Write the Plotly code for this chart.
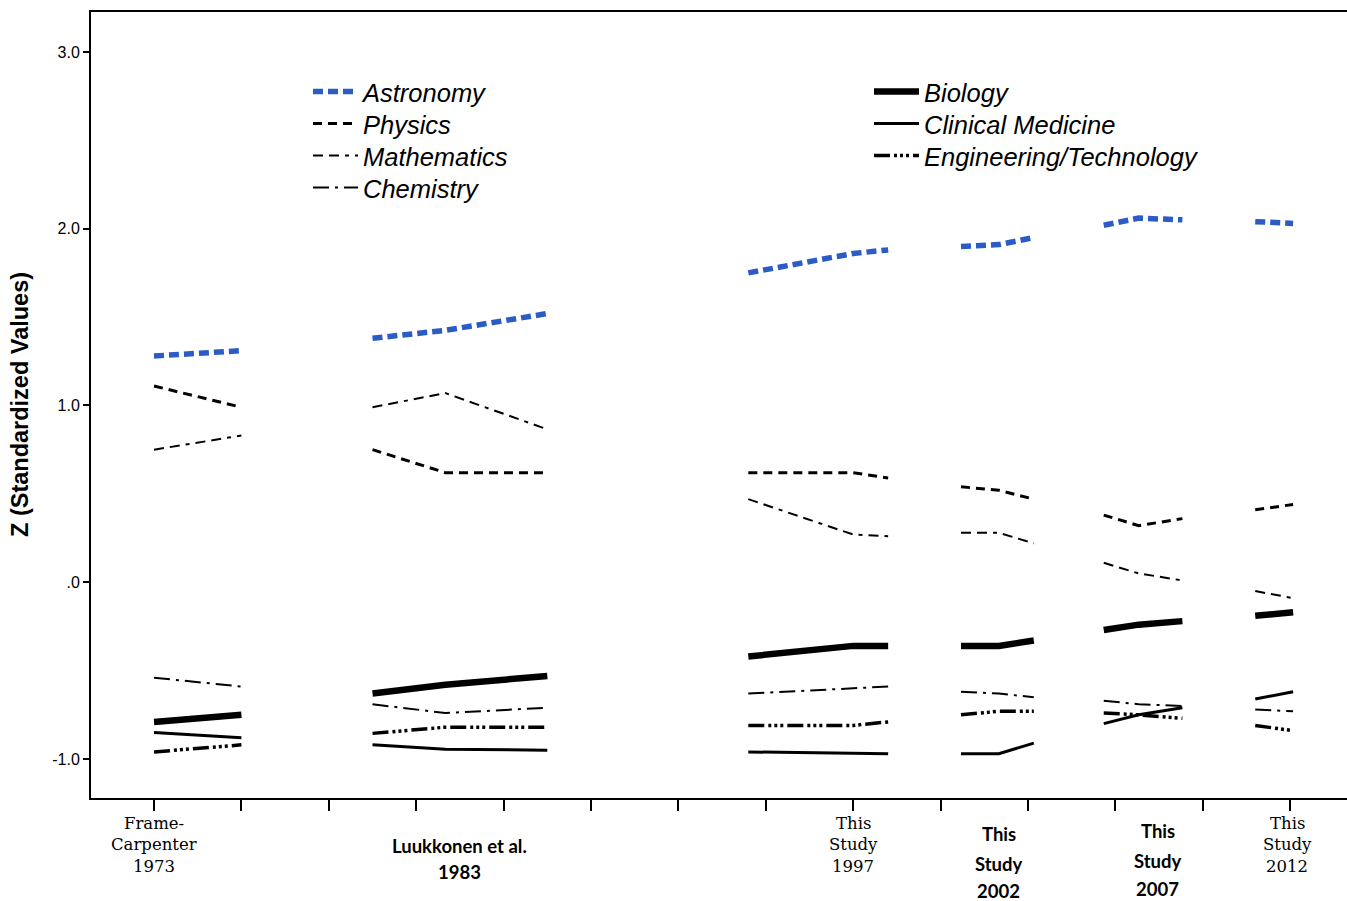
import plotly.graph_objects as go

# ---- data (x positions in years on a 1973..2012 axis, ticks every 3 years) ----
group_x = [
    [1973.0, 1976.0],            # Frame-Carpenter 1973
    [1980.5, 1983.0, 1986.5],    # Luukkonen et al. 1983
    [1993.4, 1997.0, 1998.2],    # This Study 1997
    [2000.7, 2002.0, 2003.2],    # This Study 2002
    [2005.6, 2006.8, 2008.3],    # This Study 2007
    [2010.8, 2012.1],            # This Study 2012
]

astronomy = [[1.28, 1.31], [1.38, 1.425, 1.52], [1.75, 1.86, 1.88],
             [1.90, 1.91, 1.95], [2.02, 2.06, 2.05], [2.04, 2.03]]
physics = [[1.11, 0.99], [0.75, 0.62, 0.62], [0.62, 0.62, 0.59],
           [0.54, 0.52, 0.47], [0.38, 0.32, 0.36], [0.41, 0.44]]
mathematics = [[0.75, 0.83], [0.99, 1.07, 0.865], [0.47, 0.27, 0.26],
               [0.28, 0.28, 0.22], [0.11, 0.05, 0.01], [-0.05, -0.09]]
chemistry = [[-0.54, -0.59], [-0.69, -0.74, -0.71], [-0.63, -0.60, -0.59],
             [-0.62, -0.63, -0.65], [-0.67, -0.69, -0.70], [-0.72, -0.73]]
biology = [[-0.79, -0.75], [-0.63, -0.58, -0.53], [-0.42, -0.36, -0.36],
           [-0.36, -0.36, -0.33], [-0.27, -0.24, -0.22], [-0.19, -0.17]]
clinical = [[-0.85, -0.88], [-0.92, -0.945, -0.95], [-0.96, -0.97, -0.97],
            [-0.97, -0.97, -0.91], [-0.80, -0.75, -0.71], [-0.66, -0.62]]
engineering = [[-0.96, -0.92], [-0.855, -0.82, -0.82], [-0.81, -0.81, -0.79],
               [-0.75, -0.73, -0.73], [-0.74, -0.75, -0.77], [-0.81, -0.84]]

y_tickvals = [-1, 0, 1, 2, 3]
y_ticktext = ["-1.0", ".0", "1.0", "2.0", "3.0"]
x_tickvals = list(range(1973, 2013, 3))

# name, values, colour, width, dash, legend column, legend row
fields = [
    ("Astronomy", astronomy, "#2b5cc6", 5.5, "10px,5px", 0, 0),
    ("Physics", physics, "black", 3, "9px,6px", 0, 1),
    ("Mathematics", mathematics, "black", 2, "10px,6px,10px,6px,4px,6px", 0, 2),
    ("Chemistry", chemistry, "black", 2, "16px,6px,3px,6px", 0, 3),
    ("Biology", biology, "black", 6.5, "solid", 1, 0),
    ("Clinical Medicine", clinical, "black", 3, "solid", 1, 1),
    ("Engineering/Technology", engineering, "black", 3.5,
     "16px,4px,3px,3px,3px,3px,3px,4px", 1, 2),
]

W, H = 1347, 901
plot_left, plot_right = 91, 1347
plot_top, plot_bottom = 12, 798


def flatten(groups, xs):
    fx, fy = [], []
    for gx, gy in zip(xs, groups):
        fx += gx + [None]
        fy += gy + [None]
    return fx, fy


legend_font = dict(family="Liberation Sans", size=25.5, color="black", style="italic")
legend_col_px = [308, 869]     # left edge of each legend column
legend_row0_px, legend_row_step = 92, 32

fig = go.Figure()
layout_legends = {}
for i, (name, vals, color, width, dash, col, row) in enumerate(fields):
    fx, fy = flatten(vals, group_x)
    lname = "legend" if i == 0 else f"legend{i + 1}"
    fig.add_trace(go.Scatter(x=fx, y=fy, mode="lines", name=name,
                             line=dict(color=color, width=width, dash=dash),
                             connectgaps=False, legend=lname, hoverinfo="skip"))
    ycenter = legend_row0_px + row * legend_row_step
    layout_legends[lname] = dict(
        x=(legend_col_px[col] - plot_left) / (plot_right - plot_left),
        y=(plot_bottom - ycenter) / (plot_bottom - plot_top),
        xanchor="left", yanchor="middle",
        bgcolor="rgba(0,0,0,0)", font=legend_font, itemwidth=45,
        borderwidth=0)

# ---- x category labels below the axis ----
serif = "DejaVu Serif"
sans = "Lato"
label_lines = [
    # (x, text, y pixel centre, family, bold)
    (1973.0, "Frame-", 823, serif, False),
    (1973.0, "Carpenter", 845, serif, False),
    (1973.0, "1973", 866, serif, False),
    (1983.5, "Luukkonen et al.", 846, sans, True),
    (1983.5, "1983", 872, sans, True),
    (1997.0, "This", 823, serif, False),
    (1997.0, "Study", 845, serif, False),
    (1997.0, "1997", 866, serif, False),
    (2002.0, "This", 834, sans, True),
    (2002.0, "Study", 864, sans, True),
    (2002.0, "2002", 891, sans, True),
    (2007.45, "This", 831, sans, True),
    (2007.45, "Study", 861, sans, True),
    (2007.45, "2007", 889, sans, True),
    (2011.9, "This", 823, serif, False),
    (2011.9, "Study", 845, serif, False),
    (2011.9, "2012", 866, serif, False),
]

for x, txt, ypx, fam, bold in label_lines:
    ypaper = (plot_bottom - ypx) / (plot_bottom - plot_top)
    fig.add_annotation(x=x, xref="x", y=ypaper, yref="paper", text=txt,
                       showarrow=False, xanchor="center", yanchor="middle",
                       font=dict(family=fam, size=16.5 if fam == serif else 18.5,
                                 color="black",
                                 weight="bold" if bold else "normal"))

# y-axis title placed as a rotated annotation (centre at ~x=20px, y=405px)
fig.add_annotation(x=(20 - plot_left) / (plot_right - plot_left), xref="paper",
                   y=(plot_bottom - 405) / (plot_bottom - plot_top), yref="paper",
                   text="Z (Standardized Values)", textangle=-90, showarrow=False,
                   xanchor="center", yanchor="middle",
                   font=dict(family="Liberation Sans", size=23.5, color="black",
                             weight="bold"))

fig.update_layout(
    width=W, height=H,
    margin=dict(l=plot_left, r=W - plot_right, t=plot_top, b=H - plot_bottom),
    paper_bgcolor="white", plot_bgcolor="white",
    showlegend=True,
    hovermode=False,
    xaxis=dict(range=[1970.837, 2013.95], showgrid=False, zeroline=False,
               automargin=False,
               showline=True, linecolor="black", linewidth=2, mirror=True,
               ticks="outside", ticklen=11, tickwidth=2, tickcolor="black",
               tickvals=x_tickvals, showticklabels=False),
    yaxis=dict(range=[-1.2206, 3.226], showgrid=False, zeroline=False,
               automargin=False,
               showline=True, linecolor="black", linewidth=2,
               ticks="outside", ticklen=6, tickwidth=2, tickcolor="black",
               tickvals=y_tickvals, ticktext=y_ticktext,
               tickfont=dict(family="Liberation Sans", size=16, color="black")),
    **layout_legends,
)

fig.write_html(
    "out.html",
    config={"displayModeBar": False},
    post_script="document.body.style.margin='0';document.body.style.overflow='hidden';",
)
